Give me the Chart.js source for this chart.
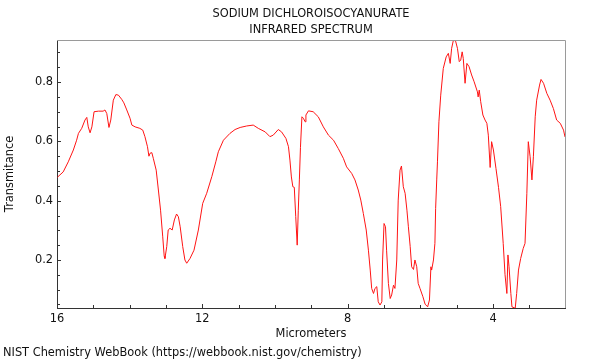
<!DOCTYPE html>
<html>
<head>
<meta charset="utf-8">
<script src="https://cdn.jsdelivr.net/npm/chart.js@4/dist/chart.umd.min.js"></script>
<style>
html,body{margin:0;padding:0;background:#fff;}
#c{display:block;}
</style>
</head>
<body>
<canvas id="c" width="600" height="360"></canvas>
<script>
const titleLines = ['SODIUM DICHLOROISOCYANURATE', 'INFRARED SPECTRUM'];
const xAxisTitle = 'Micrometers';
const yAxisTitle = 'Transmitance';
const footerText = 'NIST Chemistry WebBook (https://webbook.nist.gov/chemistry)';

const xTickLabels = [16, 12, 8, 4];
const yTickLabels = [0.2, 0.4, 0.6, 0.8];

const wavelengthUm = [
  15.99,15.83,15.69,15.55,15.46,15.41,15.32,15.23,15.18,15.14,
  15.09,15.04,14.98,14.86,14.73,14.68,14.63,14.57,14.52,14.45,
  14.38,14.31,14.22,14.16,14.08,13.99,13.94,13.85,13.72,13.64,
  13.58,13.51,13.47,13.44,13.39,13.35,13.27,13.21,13.15,13.09,
  13.05,13.03,12.98,12.94,12.89,12.83,12.77,12.71,12.66,12.61,
  12.54,12.48,12.43,12.34,12.23,12.11,11.99,11.88,11.74,11.63,
  11.56,11.42,11.24,11.10,10.96,10.78,10.60,10.46,10.27,10.14,
  10.05,9.91,9.82,9.70,9.63,9.59,9.55,9.51,9.47,9.43,
  9.39,9.36,9.33,9.30,9.26,9.22,9.17,9.15,9.08,8.95,
  8.81,8.67,8.53,8.39,8.26,8.12,8.03,7.89,7.80,7.71,
  7.64,7.57,7.49,7.43,7.38,7.34,7.29,7.25,7.20,7.16,
  7.11,7.06,7.04,7.00,6.96,6.93,6.88,6.83,6.79,6.74,
  6.70,6.65,6.61,6.56,6.52,6.47,6.42,6.37,6.33,6.28,
  6.24,6.19,6.15,6.10,6.06,6.01,5.93,5.87,5.80,5.75,
  5.71,5.69,5.64,5.60,5.58,5.55,5.53,5.49,5.44,5.37,
  5.29,5.23,5.18,5.14,5.09,5.03,4.98,4.93,4.89,4.85,
  4.82,4.77,4.72,4.66,4.59,4.52,4.43,4.41,4.38,4.34,
  4.28,4.22,4.17,4.13,4.08,4.04,3.99,3.92,3.85,3.79,
  3.72,3.67,3.62,3.59,3.56,3.51,3.48,3.39,3.35,3.30,
  3.24,3.17,3.12,3.07,3.03,2.98,2.93,2.89,2.84,2.80,
  2.72,2.68,2.61,2.52,2.43,2.34,2.25,2.15,2.06,2.02
];

const transmittance = [
  0.479,0.497,0.531,0.571,0.604,0.627,0.644,0.672,0.681,0.649,
  0.629,0.649,0.700,0.702,0.702,0.706,0.694,0.647,0.672,0.739,
  0.758,0.756,0.742,0.730,0.706,0.678,0.655,0.649,0.644,0.638,
  0.616,0.582,0.550,0.560,0.562,0.543,0.503,0.436,0.368,0.278,
  0.213,0.205,0.245,0.301,0.307,0.301,0.335,0.355,0.346,0.312,
  0.245,0.200,0.189,0.205,0.233,0.301,0.391,0.425,0.481,0.531,
  0.565,0.604,0.627,0.640,0.647,0.652,0.655,0.644,0.632,0.616,
  0.621,0.640,0.632,0.610,0.582,0.537,0.480,0.447,0.445,0.346,
  0.250,0.368,0.470,0.580,0.683,0.678,0.666,0.689,0.703,0.700,
  0.683,0.649,0.621,0.604,0.576,0.543,0.514,0.492,0.470,0.436,
  0.402,0.357,0.301,0.233,0.166,0.104,0.087,0.104,0.110,0.059,
  0.048,0.059,0.200,0.323,0.312,0.233,0.121,0.070,0.082,0.115,
  0.104,0.200,0.402,0.503,0.517,0.447,0.425,0.368,0.312,0.245,
  0.177,0.168,0.200,0.177,0.121,0.104,0.076,0.051,0.042,0.065,
  0.177,0.166,0.200,0.256,0.374,0.470,0.531,0.666,0.756,0.846,
  0.885,0.897,0.863,0.914,0.942,0.938,0.914,0.869,0.874,0.902,
  0.880,0.796,0.863,0.852,0.824,0.801,0.767,0.750,0.773,0.734,
  0.689,0.672,0.661,0.621,0.512,0.599,0.571,0.509,0.445,0.380,
  0.255,0.150,0.087,0.217,0.177,0.087,0.042,0.037,0.087,0.166,
  0.205,0.239,0.256,0.425,0.599,0.548,0.470,0.548,0.683,0.739,
  0.790,0.809,0.796,0.762,0.739,0.711,0.672,0.661,0.638,0.615
];

const points = wavelengthUm.map((w, i) => ({ x: w, y: transmittance[i] }));

const FONT = 'DejaVu Sans';
const FS = 11.4;
const TEXT = '#111';

// inward tick marks + grey top/right frame, placed through the chart's scales
const frameTicks = {
  id: 'frameTicks',
  afterDraw(chart) {
    const { ctx, chartArea: a, scales } = chart;
    const xs = scales.x, ys = scales.y;
    ctx.save();
    ctx.lineWidth = 1;
    ctx.strokeStyle = '#9a9a9a';
    ctx.beginPath();
    ctx.moveTo(a.left, a.top + 0.5);
    ctx.lineTo(a.right + 0.5, a.top + 0.5);
    ctx.lineTo(a.right + 0.5, a.bottom);
    ctx.stroke();
    ctx.strokeStyle = '#333';
    ctx.beginPath();
    for (let v = 16; v >= Math.ceil(xs.min); v -= 1) {
      const px = Math.round(xs.getPixelForValue(v)) + 0.5;
      const len = xTickLabels.includes(v) ? 4 : 3;
      ctx.moveTo(px, a.bottom);
      ctx.lineTo(px, a.bottom - len);
    }
    for (let k = 1; k * 0.05 < ys.max; k++) {
      const v = k * 0.05;
      if (v < ys.min) continue;
      const py = Math.round(ys.getPixelForValue(v)) + 0.5;
      const len = (k % 4 === 0) ? 4 : 3;
      ctx.moveTo(a.left, py);
      ctx.lineTo(a.left + len, py);
    }
    ctx.stroke();
    ctx.restore();
  }
};

const footerH = FS * 1.2 + 3;

new Chart(document.getElementById('c'), {
  type: 'line',
  data: {
    datasets: [{
      data: points,
      borderColor: 'rgb(255,20,20)',
      borderWidth: 1,
      pointRadius: 0,
      tension: 0,
      fill: false
    }]
  },
  options: {
    responsive: false,
    animation: false,
    devicePixelRatio: 1,
    layout: { padding: { left: 3, right: 35, top: 0, bottom: 0 } },
    plugins: {
      legend: { display: false },
      tooltip: { enabled: false },
      title: {
        display: true,
        text: titleLines,
        fullSize: false,
        color: TEXT,
        font: { family: FONT, size: FS, weight: 'normal', lineHeight: 16.5 / FS },
        padding: { top: 5.5, bottom: 1.5 }
      },
      subtitle: {
        display: true,
        text: footerText,
        position: 'bottom',
        align: 'start',
        color: TEXT,
        font: { family: FONT, size: FS, weight: 'normal', lineHeight: 1.2 },
        padding: { top: 3, bottom: 0 }
      }
    },
    scales: {
      x: {
        type: 'linear',
        reverse: true,
        min: 2.02,
        max: 16,
        grid: { display: false, drawTicks: false, tickLength: 0 },
        border: { display: true, color: '#333', width: 1 },
        ticks: { color: TEXT, font: { family: FONT, size: FS }, padding: 4, maxRotation: 0 },
        afterBuildTicks(scale) { scale.ticks = xTickLabels.map(v => ({ value: v })); },
        afterFit(scale) { scale.height = 360 - footerH - 308; },
        title: {
          display: true, text: xAxisTitle, color: TEXT,
          font: { family: FONT, size: FS, lineHeight: 1.2 },
          padding: { top: 0, bottom: 2.5 }
        }
      },
      y: {
        type: 'linear',
        min: 0.038,
        max: 0.942,
        grid: { display: false, drawTicks: false, tickLength: 0 },
        border: { display: true, color: '#333', width: 1 },
        ticks: { color: TEXT, font: { family: FONT, size: FS }, padding: 4,
                 callback: v => v.toFixed(1) },
        afterBuildTicks(scale) { scale.ticks = yTickLabels.map(v => ({ value: v })); },
        afterFit(scale) { scale.width = 54; },
        title: {
          display: true, text: yAxisTitle, color: TEXT,
          font: { family: FONT, size: FS, lineHeight: 1.2 },
          padding: { top: 0, bottom: 0 }
        }
      }
    }
  },
  plugins: [frameTicks]
});
</script>
</body>
</html>
